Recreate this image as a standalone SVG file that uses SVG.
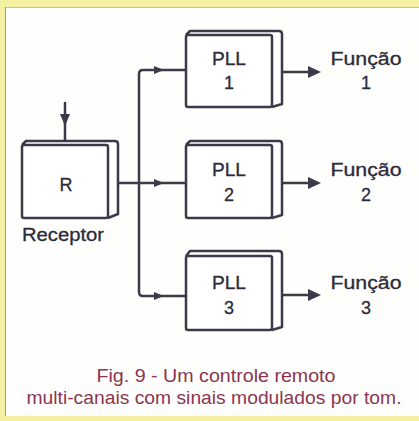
<svg xmlns="http://www.w3.org/2000/svg" width="419" height="421" viewBox="0 0 419 421">
<defs>
<style>
.ln{fill:none;stroke:#3a3a48;stroke-width:2.5;stroke-linejoin:round;stroke-linecap:round}
.bx{fill:#fff;stroke:#3a3a48;stroke-width:2.5;stroke-linejoin:round}
.ah{fill:#3a3a48;stroke:none}
.t{font-family:"Liberation Sans",Arial,sans-serif;font-size:18px;fill:#2b2b3a;text-anchor:middle;stroke:#2b2b3a;stroke-width:0.3}
.cap{font-family:"Liberation Sans",Arial,sans-serif;font-size:18.5px;fill:#8a3552;text-anchor:middle}
</style>
</defs>
<rect x="0" y="0" width="419" height="421" fill="#f4f0a2"/>
<rect x="6" y="7" width="413" height="409" fill="#fefefc"/>
<line x1="5.5" y1="7" x2="5.5" y2="416" stroke="#9a9a80" stroke-width="1"/>
<line x1="6" y1="7.5" x2="419" y2="7.5" stroke="#c9c48a" stroke-width="1"/>

<g id="connectors">
<path class="ln" d="M65,103 V141"/>
<path class="ah" d="M60,114 L70,114 L65,126 Z"/>
<path class="ln" d="M186,70 H143 Q139,70 139,74 V292 Q139,296 143,296 H186"/>
<path class="ln" d="M118,183 H186"/>
<path class="ah" d="M154,66 L164,70 L154,74 Z"/>
<path class="ah" d="M154,179 L164,183 L154,187 Z"/>
<path class="ah" d="M154,292 L164,296 L154,300 Z"/>
<path class="ln" d="M283,72 H312"/>
<path class="ah" d="M308,66 L321,72 L308,78 Z"/>
<path class="ln" d="M283,183 H312"/>
<path class="ah" d="M308,177 L321,183 L308,189 Z"/>
<path class="ln" d="M283,295 H312"/>
<path class="ah" d="M308,289 L321,295 L308,301 Z"/>
</g>

<g id="R">
<path class="bx" d="M22,145 L26,141 H115 Q118,141 118,144 V214 L108,218"/>
<rect class="bx" x="22" y="145" width="86" height="73" rx="2"/>
<text class="t" x="66" y="191" font-size="19">R</text>
<text class="t" x="63" y="241" font-size="19" textLength="82" lengthAdjust="spacingAndGlyphs">Receptor</text>
</g>

<g id="PLL1">
<path class="bx" d="M186,35 L190,31 H279 Q282,31 282,34 V104 L272,107"/>
<rect class="bx" x="186" y="35" width="86" height="72" rx="2"/>
<text class="t" x="229" y="65" textLength="34" lengthAdjust="spacingAndGlyphs">PLL</text>
<text class="t" x="229" y="89">1</text>
</g>

<g id="PLL2">
<path class="bx" d="M186,145 L190,141 H279 Q282,141 282,144 V215 L272,218"/>
<rect class="bx" x="186" y="145" width="86" height="73" rx="2"/>
<text class="t" x="229" y="176" textLength="34" lengthAdjust="spacingAndGlyphs">PLL</text>
<text class="t" x="229" y="201">2</text>
</g>

<g id="PLL3">
<path class="bx" d="M186,256 L190,251 H279 Q282,251 282,254 V327 L272,330"/>
<rect class="bx" x="186" y="256" width="86" height="74" rx="2"/>
<text class="t" x="229" y="289" textLength="34" lengthAdjust="spacingAndGlyphs">PLL</text>
<text class="t" x="229" y="314">3</text>
</g>

<g id="F1">
<text class="t" x="366" y="65" textLength="71" lengthAdjust="spacingAndGlyphs">Função</text>
<text class="t" x="366" y="89">1</text>
</g>
<g id="F2">
<text class="t" x="366" y="176" textLength="71" lengthAdjust="spacingAndGlyphs">Função</text>
<text class="t" x="366" y="201">2</text>
</g>
<g id="F3">
<text class="t" x="366" y="289" textLength="71" lengthAdjust="spacingAndGlyphs">Função</text>
<text class="t" x="366" y="314">3</text>
</g>

<g id="caption">
<text class="cap" x="216" y="382" textLength="239" lengthAdjust="spacingAndGlyphs">Fig. 9 - Um controle remoto</text>
<text class="cap" x="214" y="404" textLength="375" lengthAdjust="spacingAndGlyphs">multi-canais com sinais modulados por tom.</text>
</g>
</svg>
